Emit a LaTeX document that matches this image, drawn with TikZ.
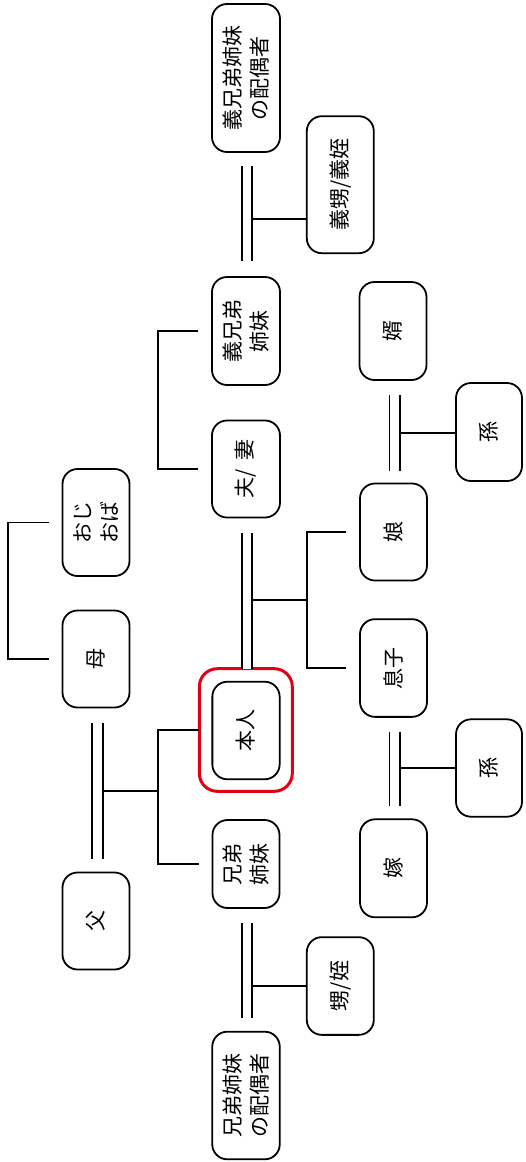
\documentclass[tikz,border=0pt]{standalone}
\usepackage{fontspec}
\newfontfamily\jp{Noto Sans CJK JP}
\usetikzlibrary{calc}
\definecolor{framered}{RGB}{225,0,20}
\tikzset{
  person/.style={draw, line width=1.8pt, rounded corners=15pt, rotate=90, inner sep=0pt,
    align=center, font=\jp\fontsize{21}{27}\selectfont, outer sep=0pt},
  conn/.style={line width=1.8pt},
  marr/.style={double, double distance=8.6pt, line width=1.8pt},
  selfframe/.style={draw=framered, line width=3pt, rounded corners=18pt, rotate=90, inner sep=0pt, outer sep=0pt}
}
\begin{document}
\begin{tikzpicture}[x=1pt,y=-1pt]
\useasboundingbox (0,0) rectangle (525,1162);
% nodes: minimum width = vertical extent, minimum height = horizontal extent
\node[person, minimum width=148pt, minimum height=68pt] (gsp) at (246,78) {義兄弟姉妹\\の配偶者};
\node[person, minimum width=137pt, minimum height=67pt] (gioi) at (340.3,184.7) {義甥/義姪};
\node[person, minimum width=108pt, minimum height=68pt] (gik) at (246,331) {義兄弟\\姉妹};
\node[person, minimum width=97pt, minimum height=68pt] (fusai) at (246,469) {夫/\hspace{0.45em}妻};
\node[person, minimum width=98pt, minimum height=67pt] (muko) at (393,331) {婿};
\node[person, minimum width=98pt, minimum height=66pt] (mago1) at (489,432) {孫};
\node[person, minimum width=107pt, minimum height=67pt] (oji) at (96,522.5) {おじ\\おば};
\node[person, minimum width=97pt, minimum height=67pt] (musume) at (393.5,532) {娘};
\node[person, minimum width=97pt, minimum height=67pt] (haha) at (96,659) {母};
\node[person, minimum width=97.6pt, minimum height=67.3pt] (honnin) at (246,730.5) {本人};
\node[selfframe, minimum width=122.6pt, minimum height=93pt] (frame) at (245.8,730) {};
\node[person, minimum width=97.7pt, minimum height=67pt] (musuko) at (393.5,668) {息子};
\node[person, minimum width=97.4pt, minimum height=66pt] (mago2) at (489,768) {孫};
\node[person, minimum width=98pt, minimum height=67pt] (yome) at (393.5,868.3) {嫁};
\node[person, minimum width=88pt, minimum height=67pt] (kyodai) at (246,864) {兄弟\\姉妹};
\node[person, minimum width=97pt, minimum height=67pt] (chichi) at (96,921) {父};
\node[person, minimum width=97.7pt, minimum height=67pt] (oi) at (340.3,986) {甥/姪};
\node[person, minimum width=127.6pt, minimum height=67.5pt] (ksp) at (246,1095.5) {兄弟姉妹\\の配偶者};

% junction coordinates
\coordinate (j1) at (252.3,219.3);
\coordinate (j2) at (252.3,600);
\coordinate (k2) at (306.7,600);
\coordinate (j3) at (400,432.7);
\coordinate (j4) at (400,768.3);
\coordinate (j5) at (102.3,790.7);
\coordinate (k5) at (157.7,790.7);
\coordinate (j6) at (252.3,985.7);
\coordinate (b1) at (157.7,0);
\coordinate (b2) at (8.3,0);

% marriages
\draw[marr] ([shift={(1,14)}]gsp.west) -- ([shift={(1,-16)}]gik.east);
\draw[marr] ([shift={(1,15)}]fusai.west) -- ([xshift=1.2pt]frame.east);
\draw[marr] ([shift={(1.7,15)}]muko.west) -- ([shift={(1.2,-13)}]musume.east);
\draw[marr] ([shift={(1.2,15)}]musuko.west) -- ([shift={(1.2,-13)}]yome.east);
\draw[marr] ([shift={(1.5,15)}]haha.west) -- ([shift={(1.5,-14)}]chichi.east);
\draw[marr] ([shift={(1,15)}]kyodai.west) -- ([shift={(1,-14)}]ksp.east);

% children branches
\draw[conn] (j1) -- (j1 -| gioi.north);
\draw[conn] (j2) -- (k2);
\draw[conn] ([xshift=-14pt]musume.north) -- (k2 |- musume.north) -- (k2 |- musuko.north) -- ([xshift=-14pt]musuko.north);
\draw[conn] (j3) -- (j3 -| mago1.north);
\draw[conn] (j4) -- (j4 -| mago2.north);
\draw[conn] (j5) -- (k5);
\draw[conn] (frame.north) -- (k5 |- frame.north) -- (k5 |- kyodai.north) -- ([xshift=-14pt]kyodai.north);
\draw[conn] (j6) -- (j6 -| oi.north);

% sibling brackets
\draw[conn] ([xshift=-14pt]gik.north) -- (b1 |- gik.north) -- (b1 |- fusai.north) -- ([xshift=-14pt]fusai.north);
\draw[conn] ([xshift=-14pt]oji.north) -- (b2 |- oji.north) -- (b2 |- haha.north) -- ([xshift=-14pt]haha.north);
\end{tikzpicture}
\end{document}
